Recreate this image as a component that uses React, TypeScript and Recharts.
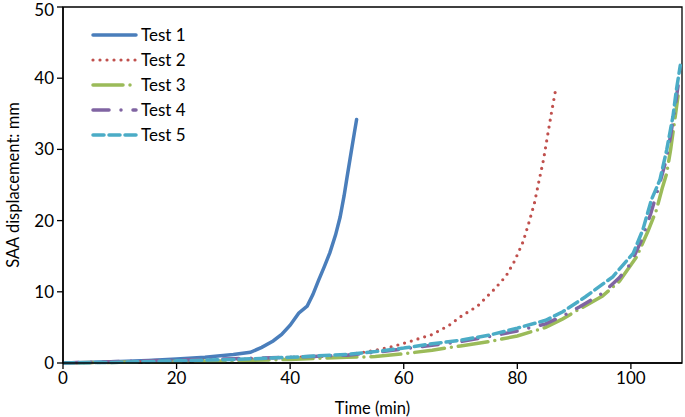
import { LineChart, Line, XAxis, YAxis, ReferenceArea } from 'recharts';

// Time (min) and SAA displacement (mm)
const test1Time = [0, 5, 10, 15, 20, 25, 30, 33, 35, 37, 38.5, 40, 41.5, 43, 44, 45, 46, 47, 48, 48.8, 49.5, 50, 50.8, 51.3, 51.7];
const test1Disp = [0, 0.1, 0.2, 0.35, 0.55, 0.8, 1.2, 1.5, 2.2, 3.1, 4.0, 5.3, 7.0, 8.0, 9.6, 11.6, 13.5, 15.5, 18.0, 20.5, 23.5, 26.0, 29.9, 32.3, 34.2];

const test2Time = [0, 10, 20, 30, 40, 45, 50, 55, 58, 61, 65, 68, 70, 73, 76, 78, 79.5, 81, 82, 83, 83.8, 84.6, 85.3, 86, 86.8];
const test2Disp = [0, 0.1, 0.3, 0.5, 0.8, 0.9, 1.1, 1.8, 2.3, 3.0, 4.0, 5.3, 6.5, 8.0, 10.4, 12.2, 14.3, 17.0, 19.6, 22.4, 25.5, 28.5, 31.8, 35.1, 38.6];

const test3Time = [0, 10, 20, 30, 40, 50, 55, 60, 65, 70, 75, 80, 85, 88, 91, 95, 98, 101, 103, 104.5, 105.5, 106.3, 107, 107.7, 108.3];
const test3Disp = [0, 0.1, 0.2, 0.3, 0.5, 0.8, 0.9, 1.3, 1.8, 2.4, 3.0, 3.8, 5.0, 6.2, 7.6, 9.4, 11.5, 14.9, 18.5, 21.5, 24.5, 26.6, 30.0, 34.0, 37.5];

const test4Time = [0, 10, 20, 30, 40, 50, 55, 60, 65, 70, 75, 80, 85, 88, 91, 95, 98, 100, 102, 103.5, 105, 106.2, 107, 107.8, 108.4];
const test4Disp = [0, 0.2, 0.4, 0.6, 0.8, 1.1, 1.5, 2.0, 2.5, 3.0, 3.7, 4.5, 5.5, 6.6, 7.9, 9.8, 12.0, 14.0, 17.5, 21.0, 25.0, 28.5, 32.0, 36.0, 39.5];

const test5Time = [0, 10, 20, 30, 40, 50, 55, 60, 65, 70, 75, 80, 85, 88, 92, 96.8, 100.4, 102.1, 103.6, 105.1, 106.3, 107.4, 108, 108.7];
const test5Disp = [0, 0.1, 0.3, 0.5, 0.8, 1.2, 1.6, 2.1, 2.7, 3.2, 3.9, 4.9, 6.0, 7.2, 9.3, 12.1, 15.4, 18.7, 22.9, 25.7, 29.9, 34.6, 38.3, 41.8];

const xTicks = [0, 20, 40, 60, 80, 100];
const yTicks = [0, 10, 20, 30, 40, 50];

const toPoints = (t: number[], d: number[]) => t.map((x, i) => ({ x, y: d[i] }));

const series = [
  { name: 'Test 1', color: '#4A7EBB', dash: undefined, width: 3.5, data: toPoints(test1Time, test1Disp) },
  { name: 'Test 2', color: '#C0504D', dash: '0 7', width: 3.2, data: toPoints(test2Time, test2Disp) },
  { name: 'Test 3', color: '#9BBB59', dash: '30 7 0 7', width: 3.5, data: toPoints(test3Time, test3Disp) },
  { name: 'Test 4', color: '#8064A2', dash: '16 12 0 12', width: 3.5, data: toPoints(test4Time, test4Disp) },
  { name: 'Test 5', color: '#4BACC6', dash: '11 5', width: 3.5, data: toPoints(test5Time, test5Disp) },
];

const font = 'Lato, "Open Sans", sans-serif';

function ChartLegend() {
  return (
    <div style={{ position: 'absolute', left: 90, top: 22, fontFamily: font, fontSize: 17, color: '#000' }}>
      {series.map((s) => (
        <div key={s.name} style={{ display: 'flex', alignItems: 'center', height: 25 }}>
          <svg width={50} height={10} style={{ marginRight: 1 }}>
            <line
              x1={3}
              y1={5}
              x2={46}
              y2={5}
              stroke={s.color}
              strokeWidth={s.width}
              strokeDasharray={s.dash}
              strokeLinecap="round"
            />
          </svg>
          <span>{s.name}</span>
        </div>
      ))}
    </div>
  );
}

export default function App() {
  return (
    <div style={{ position: 'absolute', left: 0, top: 0, width: 685, height: 417, background: '#fff' }}>
      <LineChart width={685} height={417} margin={{ top: 7, right: 3, left: 0, bottom: 0 }}>
        <ReferenceArea x1={0} x2={109} y1={0} y2={50} fill="none" stroke="#000" strokeWidth={1.3} />
        <XAxis
          dataKey="x"
          type="number"
          domain={[0, 109]}
          ticks={xTicks}
          allowDataOverflow
          height={54}
          tickSize={6}
          tickMargin={3}
          axisLine={{ stroke: '#000', strokeWidth: 1.5 }}
          tickLine={{ stroke: '#000', strokeWidth: 1.3 }}
          tick={{ fill: '#000', fontSize: 17, fontFamily: font }}
          label={{ value: 'Time (min)', position: 'insideBottom', offset: 3, fill: '#000', fontSize: 16.5, fontFamily: font }}
        />
        <YAxis
          type="number"
          domain={[0, 50]}
          ticks={yTicks}
          width={63}
          tickSize={6}
          tickMargin={3}
          axisLine={{ stroke: '#000', strokeWidth: 1.5 }}
          tickLine={{ stroke: '#000', strokeWidth: 1.3 }}
          tick={{ fill: '#000', fontSize: 17, fontFamily: font }}
          label={{
            value: 'SAA displacement: mm',
            angle: -90,
            position: 'insideLeft',
            offset: 13,
            style: { textAnchor: 'middle' },
            fill: '#000',
            fontSize: 16.5,
            fontFamily: font,
          }}
        />
        {series.map((s) => (
          <Line
            key={s.name}
            data={s.data}
            dataKey="y"
            name={s.name}
            type="linear"
            stroke={s.color}
            strokeWidth={s.width}
            strokeDasharray={s.dash}
            strokeLinecap="round"
            dot={false}
            activeDot={false}
            isAnimationActive={false}
          />
        ))}
      </LineChart>
      <ChartLegend />
    </div>
  );
}
